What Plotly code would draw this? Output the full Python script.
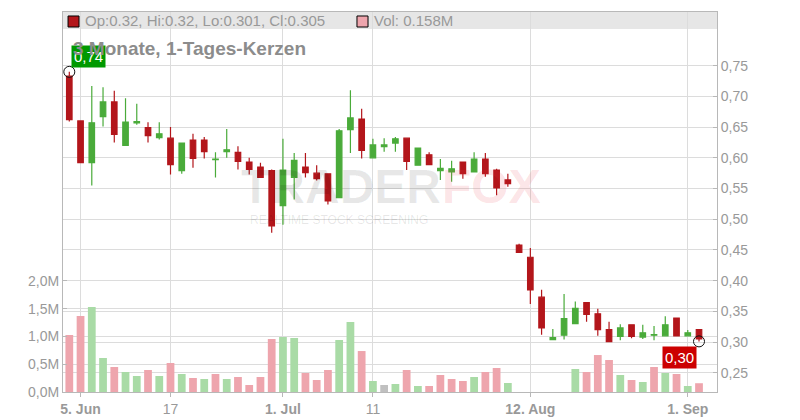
import plotly.graph_objects as go

dates = [
    "2025-06-04", "2025-06-05", "2025-06-06", "2025-06-09", "2025-06-10", "2025-06-11", "2025-06-12",
    "2025-06-13", "2025-06-16", "2025-06-17", "2025-06-18", "2025-06-19", "2025-06-20", "2025-06-23",
    "2025-06-24", "2025-06-25", "2025-06-26", "2025-06-27", "2025-06-30",
    "2025-07-01", "2025-07-02", "2025-07-03", "2025-07-04", "2025-07-07", "2025-07-08", "2025-07-09",
    "2025-07-10", "2025-07-11", "2025-07-14", "2025-07-15", "2025-07-16", "2025-07-17", "2025-07-18",
    "2025-07-21", "2025-07-22", "2025-07-23", "2025-07-24", "2025-07-25", "2025-07-28", "2025-07-29",
    "2025-08-11", "2025-08-12", "2025-08-13", "2025-08-14", "2025-08-15", "2025-08-18", "2025-08-19",
    "2025-08-20", "2025-08-21", "2025-08-22", "2025-08-25", "2025-08-26", "2025-08-27", "2025-08-28",
    "2025-08-29", "2025-09-01", "2025-09-02",
]

opens = [0.733, 0.660, 0.592, 0.667, 0.691, 0.620, 0.657, 0.649, 0.633, 0.632,
         0.579, 0.629, 0.629, 0.597, 0.610, 0.609, 0.593, 0.585, 0.579, 0.522,
         0.568, 0.585, 0.575, 0.574, 0.535, 0.646, 0.663, 0.600, 0.618, 0.624,
         0.632, 0.588, 0.605, 0.579, 0.577, 0.593, 0.577, 0.598, 0.580, 0.564,
         0.458, 0.438, 0.373, 0.304, 0.311, 0.330, 0.364, 0.346, 0.320, 0.309,
         0.328, 0.308, 0.311, 0.310, 0.339, 0.310, 0.320]
highs = [0.740, 0.660, 0.717, 0.715, 0.709, 0.697, 0.688, 0.658, 0.658, 0.650,
         0.624, 0.639, 0.634, 0.609, 0.647, 0.619, 0.600, 0.592, 0.581, 0.631,
         0.608, 0.608, 0.588, 0.575, 0.647, 0.710, 0.680, 0.631, 0.632, 0.634,
         0.632, 0.616, 0.609, 0.598, 0.595, 0.593, 0.609, 0.608, 0.582, 0.574,
         0.460, 0.453, 0.385, 0.321, 0.378, 0.366, 0.364, 0.354, 0.333, 0.329,
         0.328, 0.328, 0.326, 0.342, 0.339, 0.3195, 0.320]
lows = [0.659, 0.592, 0.555, 0.651, 0.625, 0.620, 0.654, 0.625, 0.630, 0.573,
        0.574, 0.584, 0.599, 0.568, 0.600, 0.581, 0.573, 0.568, 0.478, 0.491,
        0.532, 0.568, 0.563, 0.524, 0.535, 0.608, 0.599, 0.600, 0.610, 0.610,
        0.580, 0.588, 0.589, 0.564, 0.561, 0.566, 0.577, 0.569, 0.539, 0.553,
        0.446, 0.362, 0.312, 0.304, 0.304, 0.330, 0.333, 0.310, 0.3005, 0.303,
        0.306, 0.305, 0.303, 0.310, 0.310, 0.310, 0.301]
closes = [0.662, 0.592, 0.657, 0.691, 0.638, 0.658, 0.659, 0.636, 0.639, 0.589,
          0.624, 0.599, 0.610, 0.598, 0.613, 0.594, 0.581, 0.568, 0.489, 0.580,
          0.596, 0.576, 0.566, 0.530, 0.644, 0.665, 0.612, 0.621, 0.621, 0.631,
          0.594, 0.616, 0.589, 0.583, 0.582, 0.574, 0.598, 0.574, 0.551, 0.558,
          0.446, 0.385, 0.323, 0.307, 0.338, 0.355, 0.345, 0.320, 0.3005, 0.323,
          0.309, 0.315, 0.312, 0.328, 0.310, 0.315, 0.305]
# volume in millions (None = no volume data)
volumes = [1.025, 1.367, 1.529, 0.612, 0.450, 0.360, 0.288, 0.396, 0.288, 0.522,
           0.324, 0.252, 0.234, 0.324, 0.234, 0.270, 0.126, 0.270, 0.953, 0.989,
           0.971, 0.342, 0.216, 0.396, 0.935, 1.259, 0.737, 0.198, 0.126, 0.144,
           0.396, 0.108, 0.108, 0.306, 0.234, 0.198, 0.270, 0.360, 0.432, 0.162,
           None, None, None, None, None, 0.414, 0.360, 0.665, 0.576, 0.306,
           0.216, 0.180, 0.450, 0.342, 0.324, 0.108, 0.158]

tick_dates = ["2025-06-05", "2025-06-17", "2025-07-01", "2025-07-11", "2025-08-12", "2025-09-01"]
tick_labels = ["<b>5. Jun</b>", "17", "<b>1. Jul</b>", "11", "<b>12. Aug</b>", "<b>1. Sep</b>"]
price_ticks = [0.25, 0.30, 0.35, 0.40, 0.45, 0.50, 0.55, 0.60, 0.65, 0.70, 0.75]
volume_ticks = [0.0, 0.5, 1.0, 1.5, 2.0]

RED = "#b3161b"
GREEN = "#4aab3a"
VOL_UP = "#a9dba6"
VOL_DOWN = "#eea5ad"
VOL_FLAT = "#c0c0c0"
GRID = "#dcdcdc"
AXIS = "#b8b8b8"
TXT = "#999999"

vol_colors = []
for i, c in enumerate(closes):
    ref = closes[i - 1] if i > 0 else opens[0]
    vol_colors.append(VOL_UP if c > ref else (VOL_DOWN if c < ref else VOL_FLAT))

fig = go.Figure()

# watermark (semi-transparent so the data shows through)
fig.add_annotation(text="<b>TRADER</b>", xref="paper", yref="paper", x=0.425, y=0.54,
                   xanchor="center", yanchor="middle", showarrow=False,
                   font=dict(size=48, color="rgba(0,0,0,0.09)", family="Liberation Sans"))
fig.add_annotation(text="<b>FOX</b>", xref="paper", yref="paper", x=0.655, y=0.54,
                   xanchor="center", yanchor="middle", showarrow=False,
                   font=dict(size=48, color="rgba(235,60,75,0.15)", family="Liberation Sans"))
fig.add_annotation(text="REALTIME STOCK SCREENING", xref="paper", yref="paper", x=0.422, y=0.452,
                   xanchor="center", yanchor="middle", showarrow=False,
                   font=dict(size=12, color="rgba(0,0,0,0.1)", family="Liberation Sans"))

fig.add_trace(go.Bar(x=dates, y=volumes, marker=dict(color=vol_colors, line=dict(width=0)),
                     yaxis="y", hoverinfo="skip"))
fig.add_trace(go.Candlestick(x=dates, open=opens, high=highs, low=lows, close=closes, yaxis="y2",
                             increasing=dict(line=dict(color=GREEN, width=1.2), fillcolor=GREEN),
                             decreasing=dict(line=dict(color=RED, width=1.2), fillcolor=RED),
                             whiskerwidth=0))

hi_val = max(highs)
hi_idx = highs.index(hi_val)
lo_val = lows[-1]
fig.add_trace(go.Scatter(x=[dates[hi_idx], dates[-1]], y=[hi_val, lo_val], yaxis="y2", mode="markers",
                         marker=dict(symbol="circle-open", size=11, color="#111111", line=dict(width=1)),
                         hoverinfo="skip"))

fmt = lambda v: f"{v:.2f}".replace(".", ",")
fig.add_annotation(x=dates[hi_idx], y=hi_val, xref="x", yref="y2", text=fmt(hi_val), showarrow=False,
                   xanchor="left", yanchor="bottom", xshift=2, yshift=4, bgcolor="#009900",
                   borderpad=2, font=dict(color="white", size=15))
fig.add_annotation(x=dates[-1], y=lo_val, xref="x", yref="y2", text=fmt(lo_val), showarrow=False,
                   xanchor="right", yanchor="top", xshift=-2, yshift=-5, bgcolor="#cc0000",
                   borderpad=2, font=dict(color="white", size=15))

# legend bar and title
fig.add_shape(type="rect", xref="paper", yref="paper", x0=0, x1=1, y0=0.955, y1=1,
              fillcolor="#e6e6e6", line=dict(width=0), layer="below")
fig.add_shape(type="rect", xref="paper", yref="paper", x0=0.0077, x1=0.0245, y0=0.9605, y1=0.9895,
              fillcolor=RED, line=dict(color="black", width=1))
fig.add_shape(type="rect", xref="paper", yref="paper", x0=0.4495, x1=0.4664, y0=0.9605, y1=0.9895,
              fillcolor=VOL_DOWN, line=dict(color="black", width=1))
fig.add_annotation(text=f"Op:{opens[-1]:g}, Hi:{highs[-1]:g}, Lo:{lows[-1]:g}, Cl:{closes[-1]:g}",
                   xref="paper", yref="paper", x=0.031, y=0.9776, xanchor="left", yanchor="middle",
                   showarrow=False, font=dict(size=15, color=TXT))
fig.add_annotation(text=f"Vol: {volumes[-1]:g}M", xref="paper", yref="paper", x=0.473, y=0.9776,
                   xanchor="left", yanchor="middle", showarrow=False, font=dict(size=15, color=TXT))
fig.add_annotation(text="<b>3 Monate, 1-Tages-Kerzen</b>", xref="paper", yref="paper", x=0.012, y=0.905,
                   xanchor="left", yanchor="middle", showarrow=False, font=dict(size=19, color="#8c8c8c"))

vol_text = [f"{v:.1f}M".replace(".", ",") for v in volume_ticks]

# the page body adds an 8px offset; margins compensate so the plot sits at 63..717 x 12..392
fig.update_layout(
    width=800, height=420,
    margin=dict(l=55, r=91, t=4, b=36, autoexpand=False),
    paper_bgcolor="white", plot_bgcolor="white",
    showlegend=False, separators=",.",
    bargap=0.31, boxgap=0.3, boxgroupgap=0.3,
    font=dict(family="Liberation Sans, Arial, sans-serif", size=14, color=TXT),
    xaxis=dict(type="category", categoryorder="array", categoryarray=dates,
               tickvals=tick_dates, ticktext=tick_labels, range=[-0.56, 57.6], automargin=False,
               showgrid=True, gridcolor=GRID, gridwidth=1, showline=True, linecolor=AXIS, mirror=True,
               ticks="outside", ticklen=4, tickcolor=AXIS, tickfont=dict(size=14, color=TXT),
               rangeslider=dict(visible=False)),
    yaxis=dict(side="left", range=[0, 6.835], tickvals=volume_ticks, ticktext=vol_text, automargin=False,
               showgrid=True, gridcolor=GRID, zeroline=False, showline=True, linecolor=AXIS,
               ticks="inside", ticklen=4, tickcolor=AXIS, tickfont=dict(size=14, color=TXT)),
    yaxis2=dict(side="right", overlaying="y", range=[0.21857, 0.83746], tickvals=price_ticks,
                tickformat=".2f", automargin=False, showgrid=True, gridcolor=GRID, zeroline=False,
                showline=True, linecolor=AXIS, ticks="inside", ticklen=4, tickcolor=AXIS,
                tickfont=dict(size=14, color=TXT)),
)

fig.write_html("out.html")
